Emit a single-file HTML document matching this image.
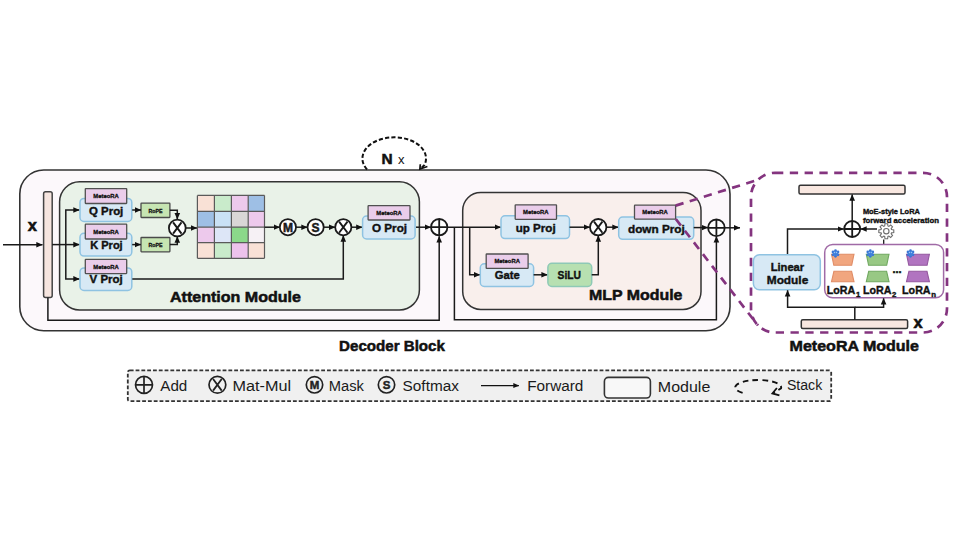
<!DOCTYPE html><html><head><meta charset="utf-8"><style>html,body{margin:0;padding:0;background:#fff;width:953px;height:540px;overflow:hidden}svg{display:block}text{font-family:"Liberation Sans", sans-serif}</style></head><body>
<svg width="953" height="540" viewBox="0 0 953 540">
<defs><marker id="ah" markerWidth="8" markerHeight="8" refX="6.2" refY="4" orient="auto" markerUnits="userSpaceOnUse"><path d="M0,1.2 L6.4,4 L0,6.8 z" fill="#111"/></marker><marker id="ahs" markerWidth="6" markerHeight="6" refX="5.5" refY="3" orient="auto" markerUnits="userSpaceOnUse"><path d="M0,0.5 L6,3 L0,5.5 z" fill="#111"/></marker></defs>
<rect x="19.8" y="170" width="710.2" height="160.8" rx="24" fill="#fcf8fb" stroke="#333" stroke-width="1.6" />
<path d="M367,169.5 A31.8,21.2 0 1 1 424.5,165 L420.5,169" fill="none" stroke="#111" stroke-width="2" stroke-dasharray="4.2 2.2"/>
<path d="M420.3,164.2 L419.9,169 L427.4,166.5" fill="none" stroke="#111" stroke-width="1.7"/>
<text x="381.6" y="163.8" font-size="15.4" font-weight="bold" text-anchor="start" fill="#111" stroke="#111" stroke-width="0.54" >N</text>
<text x="398" y="163.8" font-size="13" font-weight="normal" text-anchor="start" fill="#111" >x</text>
<path d="M3,244.7 L42.5,244.7" stroke="#1a1a1a" stroke-width="1.5" fill="none" marker-end="url(#ah)"/>
<text x="27.8" y="230.8" font-size="16.5" font-weight="bold" text-anchor="start" fill="#111" stroke="#111" stroke-width="0.58" >x</text>
<rect x="43.6" y="191.8" width="8.6" height="105.8" rx="2" fill="#f6e5df" stroke="#444" stroke-width="1.5" />
<path d="M47.9,297.6 V320.2 H439.2 V236.3" stroke="#1a1a1a" stroke-width="1.5" fill="none" marker-end="url(#ah)"/>
<rect x="59.6" y="181.8" width="359.8" height="128.2" rx="20" fill="#e9f2e8" stroke="#333" stroke-width="1.5" />
<path d="M52.2,244.6 L79.5,244.6" stroke="#1a1a1a" stroke-width="1.5" fill="none" marker-end="url(#ah)"/>
<path d="M65.8,244.6 V210 H79.5" stroke="#1a1a1a" stroke-width="1.5" fill="none" marker-end="url(#ah)"/>
<path d="M65.8,244.6 V278.9 H79.5" stroke="#1a1a1a" stroke-width="1.5" fill="none" marker-end="url(#ah)"/>
<rect x="80" y="198.4" width="51.8" height="23" rx="4" fill="#d7e9f5" stroke="#8fc3e2" stroke-width="1.5" />
<rect x="85.3" y="188.6" width="41.4" height="14.9" rx="0.5" fill="#eacdea" stroke="#505050" stroke-width="1.3" />
<text x="106.0" y="198.24999999999997" font-size="6.1" font-weight="bold" text-anchor="middle" fill="#111" stroke="#111" stroke-width="0.30" textLength="25.5" lengthAdjust="spacingAndGlyphs" >MeteoRA</text>
<text x="89" y="215.1" font-size="11.7" font-weight="bold" text-anchor="start" fill="#111" stroke="#111" stroke-width="0.41" textLength="34.3" lengthAdjust="spacingAndGlyphs" >Q Proj</text>
<rect x="80" y="233.3" width="51.8" height="22.8" rx="4" fill="#d7e9f5" stroke="#8fc3e2" stroke-width="1.5" />
<rect x="85.3" y="224.2" width="41.4" height="14.8" rx="0.5" fill="#eacdea" stroke="#505050" stroke-width="1.3" />
<text x="106.0" y="233.79999999999998" font-size="6.1" font-weight="bold" text-anchor="middle" fill="#111" stroke="#111" stroke-width="0.30" textLength="25.5" lengthAdjust="spacingAndGlyphs" >MeteoRA</text>
<text x="90.2" y="249.1" font-size="11.7" font-weight="bold" text-anchor="start" fill="#111" stroke="#111" stroke-width="0.41" textLength="32.5" lengthAdjust="spacingAndGlyphs" >K Proj</text>
<rect x="80" y="267.9" width="51.8" height="22.5" rx="4" fill="#d7e9f5" stroke="#8fc3e2" stroke-width="1.5" />
<rect x="85.3" y="259.4" width="41.4" height="14.2" rx="0.5" fill="#eacdea" stroke="#505050" stroke-width="1.3" />
<text x="106.0" y="268.7" font-size="6.1" font-weight="bold" text-anchor="middle" fill="#111" stroke="#111" stroke-width="0.30" textLength="25.5" lengthAdjust="spacingAndGlyphs" >MeteoRA</text>
<text x="89.6" y="283.3" font-size="11.7" font-weight="bold" text-anchor="start" fill="#111" stroke="#111" stroke-width="0.41" textLength="33.1" lengthAdjust="spacingAndGlyphs" >V Proj</text>
<rect x="141" y="203.2" width="28.9" height="14.3" rx="0.5" fill="#c6e5b2" stroke="#4a4a4a" stroke-width="1.3" />
<text x="155.4" y="212.7" font-size="5.6" font-weight="bold" text-anchor="middle" fill="#111" stroke="#111" stroke-width="0.28" textLength="14" lengthAdjust="spacingAndGlyphs" >RoPE</text>
<rect x="141" y="237.5" width="28.9" height="14.3" rx="0.5" fill="#c6e5b2" stroke="#4a4a4a" stroke-width="1.3" />
<text x="155.4" y="247.0" font-size="5.6" font-weight="bold" text-anchor="middle" fill="#111" stroke="#111" stroke-width="0.28" textLength="14" lengthAdjust="spacingAndGlyphs" >RoPE</text>
<path d="M132.2,210 L141,210" stroke="#1a1a1a" stroke-width="1.5" fill="none" marker-end="url(#ah)"/>
<path d="M132.2,244.6 L140.8,244.6" stroke="#1a1a1a" stroke-width="1.5" fill="none" marker-end="url(#ah)"/>
<path d="M169.9,210.2 H177.3 V219.2" stroke="#1a1a1a" stroke-width="1.5" fill="none" marker-end="url(#ah)"/>
<path d="M169.9,244.4 H177.3 V236.5" stroke="#1a1a1a" stroke-width="1.5" fill="none" marker-end="url(#ah)"/>
<circle cx="177.3" cy="228" r="8.4" fill="#fff" stroke="#1a1a1a" stroke-width="1.8"/>
<path d="M173.10000000000002,222.4 L181.5,233.6 M181.5,222.4 L173.10000000000002,233.6" stroke="#1a1a1a" stroke-width="1.9"/>
<path d="M185.7,228 L197,228" stroke="#1a1a1a" stroke-width="1.5" fill="none" marker-end="url(#ah)"/>
<rect x="197.4" y="195.4" width="17.0" height="15.900000000000006" fill="#f9e1d6"/>
<rect x="214.4" y="195.4" width="17.0" height="15.900000000000006" fill="#c9ebcb"/>
<rect x="231.4" y="195.4" width="16.799999999999983" height="15.900000000000006" fill="#edc9ec"/>
<rect x="248.2" y="195.4" width="16.30000000000001" height="15.900000000000006" fill="#9ebfe5"/>
<rect x="197.4" y="211.3" width="17.0" height="15.899999999999977" fill="#9ebfe5"/>
<rect x="214.4" y="211.3" width="17.0" height="15.899999999999977" fill="#c9e1f5"/>
<rect x="231.4" y="211.3" width="16.799999999999983" height="15.899999999999977" fill="#d9d6d6"/>
<rect x="248.2" y="211.3" width="16.30000000000001" height="15.899999999999977" fill="#edc9ec"/>
<rect x="197.4" y="227.2" width="17.0" height="15.5" fill="#edc9ec"/>
<rect x="214.4" y="227.2" width="17.0" height="15.5" fill="#dde6f7"/>
<rect x="231.4" y="227.2" width="16.799999999999983" height="15.5" fill="#8bd88a"/>
<rect x="248.2" y="227.2" width="16.30000000000001" height="15.5" fill="#f6f1f5"/>
<rect x="197.4" y="242.7" width="17.0" height="15.600000000000023" fill="#f9e1d6"/>
<rect x="214.4" y="242.7" width="17.0" height="15.600000000000023" fill="#c9ebcb"/>
<rect x="231.4" y="242.7" width="16.799999999999983" height="15.600000000000023" fill="#edc2ec"/>
<rect x="248.2" y="242.7" width="16.30000000000001" height="15.600000000000023" fill="#f9e1d6"/>
<path d="M197.4,195.4 V258.3" stroke="#5a5a5a" stroke-width="1.2"/>
<path d="M214.4,195.4 V258.3" stroke="#5a5a5a" stroke-width="1.2"/>
<path d="M231.4,195.4 V258.3" stroke="#5a5a5a" stroke-width="1.2"/>
<path d="M248.2,195.4 V258.3" stroke="#5a5a5a" stroke-width="1.2"/>
<path d="M264.5,195.4 V258.3" stroke="#5a5a5a" stroke-width="1.2"/>
<path d="M197.4,195.4 H264.5" stroke="#5a5a5a" stroke-width="1.2"/>
<path d="M197.4,211.3 H264.5" stroke="#5a5a5a" stroke-width="1.2"/>
<path d="M197.4,227.2 H264.5" stroke="#5a5a5a" stroke-width="1.2"/>
<path d="M197.4,242.7 H264.5" stroke="#5a5a5a" stroke-width="1.2"/>
<path d="M197.4,258.3 H264.5" stroke="#5a5a5a" stroke-width="1.2"/>
<path d="M264.5,227.2 L279.8,227.2" stroke="#1a1a1a" stroke-width="1.5" fill="none" marker-end="url(#ah)"/>
<circle cx="287.9" cy="227.2" r="8.1" fill="#fff" stroke="#1a1a1a" stroke-width="1.8"/>
<text x="287.9" y="231.5" font-size="12" font-weight="bold" text-anchor="middle" fill="#1a1a1a" stroke="#1a1a1a" stroke-width="0.50" >M</text>
<path d="M296,227.2 L307.5,227.2" stroke="#1a1a1a" stroke-width="1.5" fill="none" marker-end="url(#ah)"/>
<circle cx="315.6" cy="227.2" r="8.1" fill="#fff" stroke="#1a1a1a" stroke-width="1.8"/>
<text x="315.6" y="231.5" font-size="12" font-weight="bold" text-anchor="middle" fill="#1a1a1a" stroke="#1a1a1a" stroke-width="0.50" >S</text>
<path d="M323.7,227.2 L335.2,227.2" stroke="#1a1a1a" stroke-width="1.5" fill="none" marker-end="url(#ah)"/>
<circle cx="343.3" cy="227.2" r="8.1" fill="#fff" stroke="#1a1a1a" stroke-width="1.8"/>
<path d="M339.1,221.6 L347.5,232.79999999999998 M347.5,221.6 L339.1,232.79999999999998" stroke="#1a1a1a" stroke-width="1.9"/>
<path d="M132.3,278.9 H343.3 V235.5" stroke="#1a1a1a" stroke-width="1.5" fill="none" marker-end="url(#ah)"/>
<path d="M351.4,227.2 L362.4,227.2" stroke="#1a1a1a" stroke-width="1.5" fill="none" marker-end="url(#ah)"/>
<rect x="362.6" y="216" width="52.5" height="23" rx="4" fill="#d7e9f5" stroke="#8fc3e2" stroke-width="1.5" />
<rect x="368.1" y="205.7" width="41.9" height="14.3" rx="0.5" fill="#eacdea" stroke="#505050" stroke-width="1.3" />
<text x="389.05" y="215.04999999999998" font-size="6.1" font-weight="bold" text-anchor="middle" fill="#111" stroke="#111" stroke-width="0.30" textLength="25.5" lengthAdjust="spacingAndGlyphs" >MeteoRA</text>
<text x="372" y="232.3" font-size="11.7" font-weight="bold" text-anchor="start" fill="#111" stroke="#111" stroke-width="0.41" textLength="35" lengthAdjust="spacingAndGlyphs" >O Proj</text>
<path d="M416,227.2 L430.9,227.2" stroke="#1a1a1a" stroke-width="1.5" fill="none" marker-end="url(#ah)"/>
<circle cx="439.2" cy="227.2" r="8.2" fill="#fff" stroke="#1a1a1a" stroke-width="1.8"/>
<path d="M431.5,227.2 H446.9 M439.2,219.5 V234.89999999999998" stroke="#1a1a1a" stroke-width="1.8"/>
<rect x="462.7" y="192.4" width="238.3" height="117" rx="18" fill="#f9efec" stroke="#333" stroke-width="1.5" />
<path d="M447.4,227.2 L500.8,227.2" stroke="#1a1a1a" stroke-width="1.5" fill="none" marker-end="url(#ah)"/>
<path d="M454.4,227.2 V319.8 H716.4 V236.3" stroke="#1a1a1a" stroke-width="1.5" fill="none" marker-end="url(#ah)"/>
<path d="M469.7,227.2 V274.8 H480" stroke="#1a1a1a" stroke-width="1.5" fill="none" marker-end="url(#ah)"/>
<rect x="501" y="215.8" width="68.5" height="22.8" rx="4" fill="#d7e9f5" stroke="#8fc3e2" stroke-width="1.5" />
<rect x="515.2" y="204.8" width="41.3" height="14.5" rx="0.5" fill="#eacdea" stroke="#505050" stroke-width="1.3" />
<text x="535.85" y="214.25" font-size="6.1" font-weight="bold" text-anchor="middle" fill="#111" stroke="#111" stroke-width="0.30" textLength="25.5" lengthAdjust="spacingAndGlyphs" >MeteoRA</text>
<text x="515.7" y="231.5" font-size="11.7" font-weight="bold" text-anchor="start" fill="#111" stroke="#111" stroke-width="0.41" textLength="40" lengthAdjust="spacingAndGlyphs" >up Proj</text>
<path d="M569.5,227.2 L589.9,227.2" stroke="#1a1a1a" stroke-width="1.5" fill="none" marker-end="url(#ah)"/>
<circle cx="598.2" cy="227.2" r="8.2" fill="#fff" stroke="#1a1a1a" stroke-width="1.8"/>
<path d="M594.0,221.6 L602.4000000000001,232.79999999999998 M602.4000000000001,221.6 L594.0,232.79999999999998" stroke="#1a1a1a" stroke-width="1.9"/>
<path d="M606.4,227.2 L618.5,227.2" stroke="#1a1a1a" stroke-width="1.5" fill="none" marker-end="url(#ah)"/>
<rect x="480.3" y="263.8" width="53.3" height="22.7" rx="4" fill="#d7e9f5" stroke="#8fc3e2" stroke-width="1.5" />
<rect x="486.2" y="254" width="41.9" height="14.4" rx="0.5" fill="#eacdea" stroke="#505050" stroke-width="1.3" />
<text x="507.15" y="263.4" font-size="6.1" font-weight="bold" text-anchor="middle" fill="#111" stroke="#111" stroke-width="0.30" textLength="25.5" lengthAdjust="spacingAndGlyphs" >MeteoRA</text>
<text x="494.7" y="279.1" font-size="11.7" font-weight="bold" text-anchor="start" fill="#111" stroke="#111" stroke-width="0.41" textLength="25" lengthAdjust="spacingAndGlyphs" >Gate</text>
<path d="M533.6,274.8 L547.6,274.8" stroke="#1a1a1a" stroke-width="1.5" fill="none" marker-end="url(#ah)"/>
<rect x="547.9" y="263.3" width="43.8" height="23.1" rx="4" fill="#b7e0b1" stroke="#8ec9b6" stroke-width="1.5" />
<text x="557.6" y="279.1" font-size="11.7" font-weight="bold" text-anchor="start" fill="#111" stroke="#111" stroke-width="0.41" textLength="23.4" lengthAdjust="spacingAndGlyphs" >SiLU</text>
<path d="M591.7,274.8 H598.3 V235.5" stroke="#1a1a1a" stroke-width="1.5" fill="none" marker-end="url(#ah)"/>
<rect x="618.7" y="217" width="75" height="22.3" rx="4" fill="#d7e9f5" stroke="#8fc3e2" stroke-width="1.5" />
<rect x="634.5" y="205.2" width="41.1" height="13.9" rx="0.5" fill="#eacdea" stroke="#505050" stroke-width="1.3" />
<text x="655.05" y="214.34999999999997" font-size="6.1" font-weight="bold" text-anchor="middle" fill="#111" stroke="#111" stroke-width="0.30" textLength="25.5" lengthAdjust="spacingAndGlyphs" >MeteoRA</text>
<text x="628" y="232.6" font-size="11.7" font-weight="bold" text-anchor="start" fill="#111" stroke="#111" stroke-width="0.41" textLength="56.7" lengthAdjust="spacingAndGlyphs" >down Proj</text>
<path d="M693.7,227.6 L708,227.6" stroke="#1a1a1a" stroke-width="1.5" fill="none" marker-end="url(#ah)"/>
<circle cx="716.4" cy="227.8" r="8.3" fill="#fff" stroke="#1a1a1a" stroke-width="1.8"/>
<path d="M708.6,227.8 H724.1999999999999 M716.4,220.0 V235.60000000000002" stroke="#1a1a1a" stroke-width="1.8"/>
<path d="M724.7,227.8 L740,227.8" stroke="#1a1a1a" stroke-width="1.5" fill="none" marker-end="url(#ah)"/>
<text x="170" y="301.8" font-size="15.2" font-weight="bold" text-anchor="start" fill="#111" stroke="#111" stroke-width="0.53" textLength="131" lengthAdjust="spacingAndGlyphs" >Attention Module</text>
<text x="589.1" y="300.3" font-size="15.2" font-weight="bold" text-anchor="start" fill="#111" stroke="#111" stroke-width="0.53" textLength="93.3" lengthAdjust="spacingAndGlyphs" >MLP Module</text>
<text x="339.1" y="351" font-size="15.2" font-weight="bold" text-anchor="start" fill="#111" stroke="#111" stroke-width="0.53" textLength="105.8" lengthAdjust="spacingAndGlyphs" >Decoder Block</text>
<text x="789.6" y="350.9" font-size="14.8" font-weight="bold" text-anchor="start" fill="#111" stroke="#111" stroke-width="0.52" textLength="129.4" lengthAdjust="spacingAndGlyphs" >MeteoRA Module</text>
<rect x="751" y="172.8" width="196" height="159.7" rx="24" fill="none" stroke="#84347f" stroke-width="2.7" stroke-dasharray="8.3 6.5"/>
<path d="M675.6,205.6 L758,179.8" stroke="#84347f" stroke-width="2.7" stroke-dasharray="8.3 6.5" fill="none"/>
<path d="M675.8,219 L758,325.5" stroke="#84347f" stroke-width="2.7" stroke-dasharray="8.3 6.5" fill="none"/>
<rect x="799" y="185.3" width="106" height="8.6" rx="1.5" fill="#f8e7e0" stroke="#333" stroke-width="1.5" />
<path d="M852.2,221 V194.5" stroke="#1a1a1a" stroke-width="1.5" fill="none" marker-end="url(#ah)"/>
<path d="M787.5,254.8 V229 H843.8" stroke="#1a1a1a" stroke-width="1.5" fill="none" marker-end="url(#ah)"/>
<circle cx="852.2" cy="229" r="8" fill="#fff" stroke="#1a1a1a" stroke-width="1.8"/>
<path d="M844.7,229 H859.7 M852.2,221.5 V236.5" stroke="#1a1a1a" stroke-width="1.8"/>
<path d="M877,229 H860.5" stroke="#1a1a1a" stroke-width="1.5" fill="none" marker-end="url(#ah)"/>
<polygon points="891.55,229.57 893.78,229.87 893.78,232.53 891.55,232.83 891.17,233.76 892.53,235.55 890.65,237.43 888.86,236.07 887.93,236.45 887.63,238.68 884.97,238.68 884.67,236.45 883.74,236.07 881.95,237.43 880.07,235.55 881.43,233.76 881.05,232.83 878.82,232.53 878.82,229.87 881.05,229.57 881.43,228.64 880.07,226.85 881.95,224.97 883.74,226.33 884.67,225.95 884.97,223.72 887.63,223.72 887.93,225.95 888.86,226.33 890.65,224.97 892.53,226.85 891.17,228.64" fill="#fff" stroke="#6e6e6e" stroke-width="1.1"/>
<circle cx="886.3" cy="231.2" r="2.7" fill="#fff" stroke="#6e6e6e" stroke-width="1.1"/>
<path d="M883.7,239.5 L883.7,244.5" stroke="#1a1a1a" stroke-width="1.3" fill="none"/>
<text x="862.9" y="214.3" font-size="7.7" font-weight="bold" text-anchor="start" fill="#111" stroke="#111" stroke-width="0.39" textLength="57" lengthAdjust="spacingAndGlyphs" >MoE-style LoRA</text>
<text x="862.9" y="222.7" font-size="7.7" font-weight="bold" text-anchor="start" fill="#111" stroke="#111" stroke-width="0.39" textLength="76" lengthAdjust="spacingAndGlyphs" >forward acceleration</text>
<rect x="753.4" y="254.8" width="66.9" height="35" rx="6" fill="#d7e9f5" stroke="#8fc3e2" stroke-width="1.5" />
<text x="787.4" y="270.6" font-size="11.6" font-weight="bold" text-anchor="middle" fill="#111" stroke="#111" stroke-width="0.41" textLength="33.5" lengthAdjust="spacingAndGlyphs" >Linear</text>
<text x="787.5" y="284.2" font-size="11.6" font-weight="bold" text-anchor="middle" fill="#111" stroke="#111" stroke-width="0.41" textLength="41.5" lengthAdjust="spacingAndGlyphs" >Module</text>
<rect x="824.7" y="244.5" width="118.9" height="53.3" rx="8" fill="#fff" stroke="#a06aa6" stroke-width="1.5" />
<path d="M831.5,254.2 L854,254.2 L851.7,265.3 L833.8,265.3 Z" fill="#f1a67f" stroke="#e08c66" stroke-width="1.1"/>
<path d="M833.9,271.3 L851.6,271.3 L854,281.7 L831.5,281.7 Z" fill="#f1a67f" stroke="#e08c66" stroke-width="1.1"/>
<circle cx="835.50" cy="256.30" r="1.35" fill="#3a76d4"/>
<circle cx="832.99" cy="254.85" r="1.35" fill="#3a76d4"/>
<circle cx="832.99" cy="251.95" r="1.35" fill="#3a76d4"/>
<circle cx="835.50" cy="250.50" r="1.35" fill="#3a76d4"/>
<circle cx="838.01" cy="251.95" r="1.35" fill="#3a76d4"/>
<circle cx="838.01" cy="254.85" r="1.35" fill="#3a76d4"/>
<circle cx="835.5" cy="253.4" r="2.6" fill="#3f7fdc"/>
<circle cx="834.5" cy="252.5" r="0.7" fill="#9cc4f4"/><circle cx="836.5" cy="252.5" r="0.7" fill="#9cc4f4"/>
<text x="826.8" y="294" font-size="10.6" font-weight="bold" text-anchor="start" fill="#111" stroke="#111" stroke-width="0.37" textLength="28.5" lengthAdjust="spacingAndGlyphs" >LoRA</text>
<text x="856.0" y="297.4" font-size="7.8" font-weight="bold" text-anchor="start" fill="#111" stroke="#111" stroke-width="0.39" >1</text>
<path d="M866.3,254.2 L889,254.2 L886.7,265.3 L868.5999999999999,265.3 Z" fill="#98c884" stroke="#70a860" stroke-width="1.1"/>
<path d="M868.6999999999999,271.3 L886.6,271.3 L889,281.7 L866.3,281.7 Z" fill="#98c884" stroke="#70a860" stroke-width="1.1"/>
<circle cx="870.30" cy="256.30" r="1.35" fill="#3a76d4"/>
<circle cx="867.79" cy="254.85" r="1.35" fill="#3a76d4"/>
<circle cx="867.79" cy="251.95" r="1.35" fill="#3a76d4"/>
<circle cx="870.30" cy="250.50" r="1.35" fill="#3a76d4"/>
<circle cx="872.81" cy="251.95" r="1.35" fill="#3a76d4"/>
<circle cx="872.81" cy="254.85" r="1.35" fill="#3a76d4"/>
<circle cx="870.3" cy="253.4" r="2.6" fill="#3f7fdc"/>
<circle cx="869.3" cy="252.5" r="0.7" fill="#9cc4f4"/><circle cx="871.3" cy="252.5" r="0.7" fill="#9cc4f4"/>
<text x="862.9" y="294" font-size="10.6" font-weight="bold" text-anchor="start" fill="#111" stroke="#111" stroke-width="0.37" textLength="28.5" lengthAdjust="spacingAndGlyphs" >LoRA</text>
<text x="892.1" y="297.4" font-size="7.8" font-weight="bold" text-anchor="start" fill="#111" stroke="#111" stroke-width="0.39" >2</text>
<path d="M906.5,254.2 L929.4,254.2 L927.1,265.3 L908.8,265.3 Z" fill="#b174c0" stroke="#94589f" stroke-width="1.1"/>
<path d="M908.9,271.3 L927.0,271.3 L929.4,281.7 L906.5,281.7 Z" fill="#b174c0" stroke="#94589f" stroke-width="1.1"/>
<circle cx="910.50" cy="256.30" r="1.35" fill="#3a76d4"/>
<circle cx="907.99" cy="254.85" r="1.35" fill="#3a76d4"/>
<circle cx="907.99" cy="251.95" r="1.35" fill="#3a76d4"/>
<circle cx="910.50" cy="250.50" r="1.35" fill="#3a76d4"/>
<circle cx="913.01" cy="251.95" r="1.35" fill="#3a76d4"/>
<circle cx="913.01" cy="254.85" r="1.35" fill="#3a76d4"/>
<circle cx="910.5" cy="253.4" r="2.6" fill="#3f7fdc"/>
<circle cx="909.5" cy="252.5" r="0.7" fill="#9cc4f4"/><circle cx="911.5" cy="252.5" r="0.7" fill="#9cc4f4"/>
<text x="902.1" y="294" font-size="10.6" font-weight="bold" text-anchor="start" fill="#111" stroke="#111" stroke-width="0.37" textLength="28.5" lengthAdjust="spacingAndGlyphs" >LoRA</text>
<text x="931.3000000000001" y="297.4" font-size="7.8" font-weight="bold" text-anchor="start" fill="#111" stroke="#111" stroke-width="0.39" >n</text>
<text x="897" y="272.5" font-size="11" font-weight="bold" text-anchor="middle" fill="#111" stroke="#111" stroke-width="0.50" >...</text>
<rect x="801.3" y="319.7" width="106.3" height="8.7" rx="1.5" fill="#f8e7e0" stroke="#333" stroke-width="1.5" />
<text x="913.5" y="327.8" font-size="16.5" font-weight="bold" text-anchor="start" fill="#111" stroke="#111" stroke-width="0.58" >x</text>
<path d="M854.8,319.7 V307.2 H787.6 V290.3" stroke="#1a1a1a" stroke-width="1.5" fill="none" marker-end="url(#ah)"/>
<path d="M854.8,307.2 H883.6 V298.3" stroke="#1a1a1a" stroke-width="1.5" fill="none" marker-end="url(#ah)"/>
<rect x="127.8" y="370.3" width="703.4" height="30.9" rx="2" fill="#f0f0f0" stroke="#333" stroke-width="1.8" stroke-dasharray="3.8 2"/>
<circle cx="144" cy="384.8" r="8.5" fill="none" stroke="#222" stroke-width="1.7"/>
<path d="M135.5,384.8 H152.5 M144,376.3 V393.3" stroke="#222" stroke-width="1.7"/>
<text x="160.3" y="391" font-size="15.2" font-weight="normal" text-anchor="start" fill="#1a1a1a" textLength="27" lengthAdjust="spacingAndGlyphs" >Add</text>
<circle cx="217.4" cy="384.8" r="8.4" fill="none" stroke="#222" stroke-width="1.7"/>
<path d="M213.1,379.0 L221.70000000000002,390.6 M221.70000000000002,379.0 L213.1,390.6" stroke="#222" stroke-width="1.8"/>
<text x="232.5" y="391" font-size="15.2" font-weight="normal" text-anchor="start" fill="#1a1a1a" textLength="58.5" lengthAdjust="spacingAndGlyphs" >Mat-Mul</text>
<circle cx="314.5" cy="384.8" r="8.2" fill="none" stroke="#222" stroke-width="1.7"/>
<text x="314.5" y="389.0" font-size="11.5" font-weight="bold" text-anchor="middle" fill="#222" stroke="#222" stroke-width="0.45" >M</text>
<text x="328.8" y="391" font-size="15.2" font-weight="normal" text-anchor="start" fill="#1a1a1a" textLength="35.2" lengthAdjust="spacingAndGlyphs" >Mask</text>
<circle cx="386.5" cy="384.8" r="8.2" fill="none" stroke="#222" stroke-width="1.7"/>
<text x="386.5" y="389.0" font-size="11.5" font-weight="bold" text-anchor="middle" fill="#222" stroke="#222" stroke-width="0.45" >S</text>
<text x="402.6" y="391" font-size="15.2" font-weight="normal" text-anchor="start" fill="#1a1a1a" textLength="56.3" lengthAdjust="spacingAndGlyphs" >Softmax</text>
<path d="M481,385.6 H518.8" stroke="#111" stroke-width="1.2" marker-end="url(#ahs)"/>
<text x="527.2" y="391" font-size="15.2" font-weight="normal" text-anchor="start" fill="#1a1a1a" textLength="56.2" lengthAdjust="spacingAndGlyphs" >Forward</text>
<rect x="604.4" y="377.4" width="46" height="20.6" rx="4" fill="#f8f8f8" stroke="#333" stroke-width="1.6" />
<text x="657.8" y="392.4" font-size="15.2" font-weight="normal" text-anchor="start" fill="#1a1a1a" textLength="52.5" lengthAdjust="spacingAndGlyphs" >Module</text>
<path d="M742.6,392.8 A23,7.4 0 1 1 781,388.3 L773.5,393" fill="none" stroke="#111" stroke-width="1.9" stroke-dasharray="5.6 4.2"/>
<path d="M776.9,388 L772.4,393.4 L779.4,395.3" fill="none" stroke="#111" stroke-width="1.8"/>
<text x="786.9" y="390.4" font-size="15.2" font-weight="normal" text-anchor="start" fill="#1a1a1a" textLength="35.3" lengthAdjust="spacingAndGlyphs" >Stack</text>
</svg></body></html>
